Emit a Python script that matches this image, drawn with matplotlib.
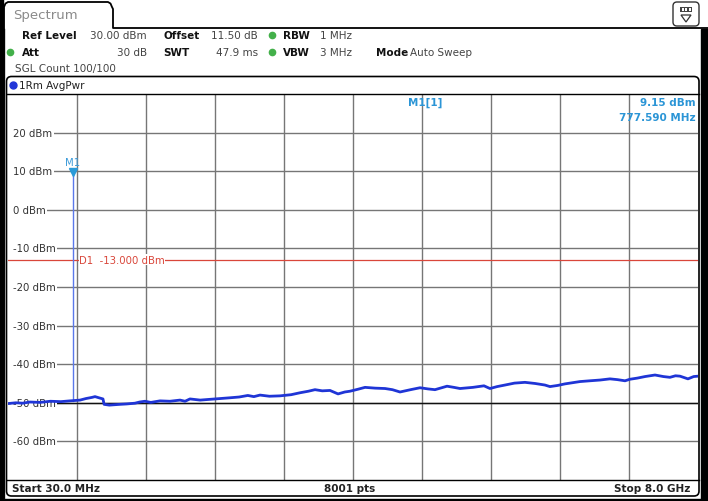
import numpy as np
import matplotlib
matplotlib.use("Agg")
import matplotlib.pyplot as plt
from matplotlib.patches import FancyBboxPatch, Rectangle, Polygon

# ---------------- data ----------------
freq_mhz = [30, 120, 200, 284, 400, 520, 640, 746, 862, 930, 1000, 1035, 1080, 1127,
            1140, 1200, 1260, 1324, 1400, 1497, 1550, 1612, 1680, 1786, 1900, 2017,
            2075, 2132, 2250, 2363, 2480, 2594, 2700, 2800, 2870, 2941, 3050, 3172,
            3300, 3403, 3500, 3576, 3660, 3749, 3842, 3920, 3980, 4070, 4154, 4270,
            4385, 4470, 4558, 4680, 4789, 4880, 4962, 5101, 5180, 5251, 5400, 5528,
            5597, 5680, 5770, 5880, 6001, 6120, 6232, 6290, 6380, 6463, 6550, 6637,
            6750, 6870, 6983, 7070, 7157, 7214, 7300, 7388, 7503, 7600, 7676, 7740,
            7792, 7884, 7950, 8000]
level_dbm = [-50.2, -50.0, -50.1, -49.8, -49.9, -49.6, -49.7, -49.5, -49.3, -48.9, -48.6,
             -48.4, -48.7, -49.0, -50.4, -50.6, -50.5, -50.4, -50.3, -50.1, -49.8, -49.6,
             -49.9, -49.5, -49.6, -49.3, -49.6, -49.0, -49.3, -49.1, -48.9, -48.7, -48.5,
             -48.1, -48.4, -48.0, -48.3, -48.2, -47.9, -47.4, -47.0, -46.6, -46.9, -46.8,
             -47.7, -47.2, -47.0, -46.5, -46.0, -46.2, -46.3, -46.6, -47.2, -46.6, -46.1,
             -46.4, -46.6, -45.7, -46.0, -46.3, -46.0, -45.6, -46.3, -45.8, -45.4, -44.9,
             -44.7, -45.0, -45.4, -45.8, -45.5, -45.1, -44.8, -44.5, -44.3, -44.1, -43.8,
             -44.0, -44.3, -43.9, -43.6, -43.2, -42.8, -43.2, -43.4, -43.0, -43.1, -43.8,
             -43.2, -43.1]
ytick_vals = [20, 10, 0, -10, -20, -30, -40, -50, -60]
ytick_labels = ["20 dBm", "10 dBm", "0 dBm", "-10 dBm", "-20 dBm", "-30 dBm",
                "-40 dBm", "-50 dBm", "-60 dBm"]
start_mhz = 30.0
stop_mhz = 8000.0
n_pts = 8001
ref_level = 30.0
y_bottom = -70.0
marker_freq = 777.590
marker_level = 9.15
d1_level = -13.0

W, H = 708, 502
fig = plt.figure(figsize=(W / 100, H / 100), dpi=100)
fig.patch.set_facecolor("white")
plt.rcParams['font.family'] = ['DejaVu Sans']

def fx(px):
    return px / W

def fy(py):
    return 1 - py / H

# main axes (grid region)
L, R, T, B = 8, 698, 95, 481
ax = fig.add_axes([fx(L), fy(B), (R - L) / W, (B - T) / H])
ax.set_facecolor("none")
ax.set_xlim(start_mhz, stop_mhz)
ax.set_ylim(y_bottom, ref_level)
ax.set_xticks(np.linspace(start_mhz, stop_mhz, 11)[1:-1])
ax.set_yticks(np.arange(y_bottom, ref_level + 1, 10)[1:-1])
ax.tick_params(length=0, labelbottom=False, labelleft=False)
ax.grid(True, color="#767676", lw=1.0)
ax.set_axisbelow(True)
for s in ax.spines.values():
    s.set_visible(False)
# white strip at the left edge, so gridlines begin at the labels
ax.add_patch(Rectangle((0, 0), 0.008, 1, transform=ax.transAxes, facecolor="white",
                       edgecolor="none", zorder=0.8))
ax.axhline(-50, color="#111111", lw=1.0, zorder=1)

for v, lab in zip(ytick_vals, ytick_labels):
    ax.text(0.007, v, lab, transform=ax.get_yaxis_transform(), fontsize=7.3,
            color="#333333", va="center", ha="left", zorder=3,
            bbox=dict(facecolor="white", edgecolor="none", pad=1.2))

# D1 line
ax.axhline(d1_level, color="#d9463a", lw=0.9, zorder=2)
ax.text(0.103, d1_level, "D1  -13.000 dBm", transform=ax.get_yaxis_transform(),
        fontsize=7.3, color="#d9463a", va="center", ha="left", zorder=3,
        bbox=dict(facecolor="white", edgecolor="none", pad=0.4))

# trace
ax.plot(freq_mhz, level_dbm, color="#1f35d6", lw=2.0, zorder=5)

# marker
trace_at_m = np.interp(marker_freq, freq_mhz, level_dbm)
ax.plot([marker_freq, marker_freq], [trace_at_m, marker_level], color="#5b78ea",
        lw=1.0, zorder=4)
ax.plot([marker_freq], [marker_level + 0.6], marker="v", ms=6, color="#2a9ad8", zorder=6)
ax.text(marker_freq, marker_level + 3.3, "M1", fontsize=7.3, color="#3a9ad9",
        ha="center", va="center", zorder=6)

mcol = "#2b95d6"
ax.text(0.604, 0.979, "M1[1]", transform=ax.transAxes, fontsize=7.5, color=mcol,
        ha="center", va="center", fontweight="bold")
ax.text(0.997, 0.979, f"{marker_level:.2f} dBm", transform=ax.transAxes, fontsize=7.5,
        color=mcol, ha="right", va="center", fontweight="bold")
ax.text(0.997, 0.940, f"{marker_freq:.3f} MHz", transform=ax.transAxes, fontsize=7.5,
        color=mcol, ha="right", va="center", fontweight="bold")

# ---------------- decoration overlay ----------------
ov = fig.add_axes([0, 0, 1, 1], zorder=3)
ov.set_xlim(0, W)
ov.set_ylim(H, 0)
ov.axis("off")
ov.patch.set_alpha(0)

# outer black bands
ov.add_patch(Rectangle((0, 0), 2.5, H, color="black"))
ov.add_patch(Rectangle((701, 30), 7, H - 30, color="black"))
ov.add_patch(Rectangle((0, 499.5), W, 3, color="black"))
ov.plot([4, 4], [30, 499], color="#222222", lw=1.0)

# tab outline
tab_x = [4, 4, 5.5, 8, 108, 110.5, 112, 113, 113, W]
tab_y = [499, 8, 4.5, 3, 3, 4.5, 8, 10, 29, 29]
ov.plot(tab_x, tab_y, color="black", lw=1.3, solid_joinstyle="round")
ov.text(13, 16, "Spectrum", fontsize=9.5, color="#8a8a8a", ha="left", va="center")

# top-right icon
ov.add_patch(FancyBboxPatch((673, 3), 26, 24, boxstyle="round,pad=0,rounding_size=4",
                            facecolor="white", edgecolor="#333333", lw=1.0))
ov.add_patch(Rectangle((680, 8), 12, 5, facecolor="#444444", edgecolor="none"))
for k in range(3):
    ov.add_patch(Rectangle((681.5 + k * 3.5, 9.3), 2, 2.4, facecolor="white", edgecolor="none"))
ov.add_patch(Polygon([[681, 16], [691, 16], [686, 23]], closed=True, facecolor="white",
                     edgecolor="#333333", lw=0.9))

# header parameters
fs = 7.5
lab_c = "#111111"
val_c = "#444444"
ov.text(22, 36, "Ref Level", fontsize=fs, fontweight="bold", color=lab_c, va="center")
ov.text(147, 36, f"{ref_level:.2f} dBm", fontsize=fs, color=val_c, va="center", ha="right")
ov.text(163, 36, "Offset", fontsize=fs, fontweight="bold", color=lab_c, va="center")
ov.text(258, 36, "11.50 dB", fontsize=fs, color=val_c, va="center", ha="right")
ov.text(283, 36, "RBW", fontsize=fs, fontweight="bold", color=lab_c, va="center")
ov.text(320, 36, "1 MHz", fontsize=fs, color=val_c, va="center")
ov.text(22, 53, "Att", fontsize=fs, fontweight="bold", color=lab_c, va="center")
ov.text(147, 53, "30 dB", fontsize=fs, color=val_c, va="center", ha="right")
ov.text(163, 53, "SWT", fontsize=fs, fontweight="bold", color=lab_c, va="center")
ov.text(258, 53, "47.9 ms", fontsize=fs, color=val_c, va="center", ha="right")
ov.text(283, 53, "VBW", fontsize=fs, fontweight="bold", color=lab_c, va="center")
ov.text(320, 53, "3 MHz", fontsize=fs, color=val_c, va="center")
ov.text(376, 53, "Mode", fontsize=fs, fontweight="bold", color=lab_c, va="center")
ov.text(410, 53, "Auto Sweep", fontsize=fs, color=val_c, va="center")
ov.text(15, 69, "SGL Count 100/100", fontsize=fs, color=val_c, va="center")
ov.plot([10, 272, 272], [53, 36, 53], ls="none", marker="o", ms=4.5, color="#43b04a")

# trace window frame
ov.add_patch(FancyBboxPatch((6.5, 77.5), 692.5, 419.5,
                            boxstyle="round,pad=0,rounding_size=5",
                            facecolor="none", edgecolor="black", lw=1.2))
ov.plot([6.5, 699], [95, 95], color="black", lw=1.0)
ov.plot([6.5, 699], [481, 481], color="black", lw=1.0)
ov.plot([13], [86], marker="o", ms=5, color="#2236d8", ls="none")
ov.text(19, 86, "1Rm AvgPwr", fontsize=fs, color="#222222", va="center")

# footer
ov.text(12, 489.5, f"Start {start_mhz:.1f} MHz", fontsize=fs, fontweight="bold",
        color="#222222", va="center")
ov.text(350, 489.5, f"{n_pts} pts", fontsize=fs, fontweight="bold", color="#222222",
        va="center", ha="center")
ov.text(690, 489.5, f"Stop {stop_mhz / 1000:.1f} GHz", fontsize=fs, fontweight="bold",
        color="#222222", va="center", ha="right")

fig.savefig("out.png", dpi=100, facecolor="white")
